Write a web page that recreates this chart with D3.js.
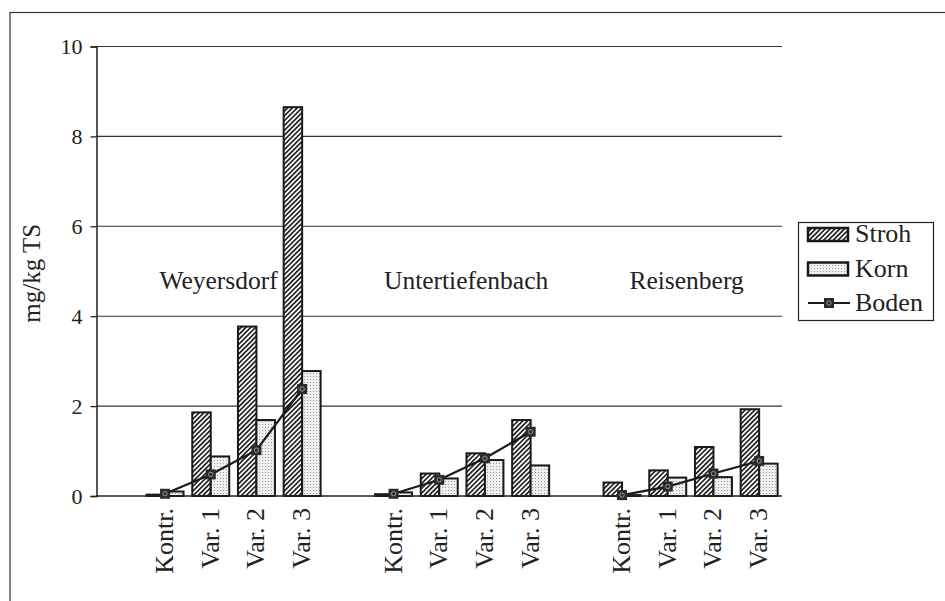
<!DOCTYPE html>
<html><head><meta charset="utf-8">
<script src="https://cdn.jsdelivr.net/npm/d3@7"></script>
<style>body{margin:0;background:#fff}svg{display:block}text{font-family:"Liberation Serif","Times New Roman",serif;fill:#222}</style>
</head><body><svg id="c" width="945" height="601"></svg>
<script>
const sites = ["Weyersdorf","Untertiefenbach","Reisenberg"];
const categories = ["Kontr.","Var. 1","Var. 2","Var. 3"];
const series = ["Stroh","Korn"];
const stroh = [[0.03,1.86,3.77,8.65],[0.04,0.50,0.95,1.69],[0.30,0.57,1.09,1.93]];
const korn  = [[0.10,0.88,1.69,2.78],[0.08,0.39,0.80,0.68],[0.02,0.41,0.42,0.72]];
const boden = [[0.05,0.48,1.02,2.38],[0.05,0.36,0.84,1.43],[0.02,0.21,0.50,0.78]];
const yTicks = [0,2,4,6,8,10];
const yLabel = "mg/kg TS";

(function(){
const svg = d3.select("#c");
const defs = svg.append("defs");
const hatch = defs.append("pattern").attr("id","hatch").attr("patternUnits","userSpaceOnUse")
  .attr("width",3.4).attr("height",3.4).attr("patternTransform","rotate(45)");
hatch.append("rect").attr("width",3.4).attr("height",3.4).attr("fill","#fff");
hatch.append("line").attr("x1",0.8).attr("y1",0).attr("x2",0.8).attr("y2",3.4).attr("stroke","#1e1e1e").attr("stroke-width",1.7);
const dots = defs.append("pattern").attr("id","dots").attr("patternUnits","userSpaceOnUse").attr("width",3).attr("height",3);
dots.append("rect").attr("width",3).attr("height",3).attr("fill","#efefef");
dots.append("rect").attr("x",1).attr("y",1).attr("width",1).attr("height",1).attr("fill","#9a9a9a");

svg.append("rect").attr("x",10).attr("y",12.5).attr("width",1000).attr("height",1000)
  .attr("fill","none").attr("stroke","#333").attr("stroke-width",1.2);

const pL = 96.5, pR = 782, pT = 46.5, pB = 496;
const slots = [];
sites.forEach(s=>{ slots.push(s+"|gap"); categories.forEach(c=>slots.push(s+"|"+c)); });
const x = d3.scaleBand().domain(slots).range([pL,pR]).padding(0);
const x1 = d3.scaleBand().domain(series).range([0,x.bandwidth()]).paddingInner(0).paddingOuter(0.236);
const y = d3.scaleLinear().domain([0,10]).range([pB,pT]);

svg.append("g").selectAll("line").data(yTicks.filter(d=>d>0)).join("line")
  .attr("x1",pL).attr("x2",pR).attr("y1",d=>y(d)).attr("y2",d=>y(d))
  .attr("stroke","#333").attr("stroke-width",1.1);

const yAxis = d3.axisLeft(y).tickValues(yTicks).tickSize(6).tickPadding(8).tickFormat(d3.format("d"));
const ga = svg.append("g").attr("transform",`translate(${pL},0)`).call(yAxis);
ga.select(".domain").attr("stroke","#222").attr("stroke-width",1.5);
ga.selectAll(".tick line").attr("stroke","#222").attr("stroke-width",1.3);
ga.selectAll(".tick text").attr("font-size",22).attr("font-family","Liberation Serif").attr("fill","#222");

svg.append("text").attr("transform",`translate(40,${(pT+pB)/2+2}) rotate(-90)`)
  .attr("text-anchor","middle").attr("font-size",25).text(yLabel);

const barData = [];
sites.forEach((s,i)=>categories.forEach((c,j)=>{
  barData.push({key:s+"|"+c, ser:"Stroh", v:stroh[i][j]});
  barData.push({key:s+"|"+c, ser:"Korn", v:korn[i][j]});
}));
svg.append("g").selectAll("rect").data(barData).join("rect")
  .attr("x",d=>x(d.key)+x1(d.ser)).attr("width",x1.bandwidth())
  .attr("y",d=>y(d.v)).attr("height",d=>pB-y(d.v))
  .attr("fill",d=>d.ser==="Stroh"?"url(#hatch)":"url(#dots)")
  .attr("stroke","#1a1a1a").attr("stroke-width",2);

svg.append("line").attr("x1",pL).attr("x2",pR).attr("y1",pB).attr("y2",pB)
  .attr("stroke","#222").attr("stroke-width",1.6);

svg.append("g").selectAll("text").data(sites.flatMap(s=>categories.map(c=>({key:s+"|"+c,c}))))
  .join("text")
  .attr("transform",d=>`translate(${x(d.key)+x.bandwidth()/2+8},508) rotate(-90)`)
  .attr("text-anchor","end").attr("font-size",26).text(d=>d.c);

const siteOffsets = [-15, 4, -4];
const siteCenters = sites.map(s=>{
  const a = x(s+"|"+categories[0]), b = x(s+"|"+categories[3])+x.bandwidth();
  return (a+b)/2;
});
svg.append("g").selectAll("text").data(sites).join("text")
  .attr("x",(d,i)=>siteCenters[i]+siteOffsets[i]).attr("y",289).attr("text-anchor","middle")
  .attr("font-size",25.5).text(d=>d);

const line = d3.line().x(d=>x(d.key)+x.bandwidth()/2).y(d=>y(d.v));
sites.forEach((s,i)=>{
  const pts = categories.map((c,j)=>({key:s+"|"+c, v:boden[i][j]}));
  svg.append("path").datum(pts).attr("d",line).attr("fill","none").attr("stroke","#1a1a1a").attr("stroke-width",2.2);
  const g = svg.append("g").selectAll("g").data(pts).join("g")
    .attr("transform",d=>`translate(${x(d.key)+x.bandwidth()/2},${y(d.v)})`);
  g.append("rect").attr("x",-5).attr("y",-5).attr("width",10).attr("height",10).attr("fill","#2a2a2a");
  g.append("circle").attr("r",2.2).attr("fill","none").attr("stroke","#999").attr("stroke-width",1);
});

const lg = svg.append("g");
lg.append("rect").attr("x",798.5).attr("y",222.5).attr("width",135).attr("height",98)
  .attr("fill","#fff").attr("stroke","#222").attr("stroke-width",1.2);
const items = ["Stroh","Korn","Boden"];
items.forEach((nm,i)=>{
  const cy = 234 + i*34.5;
  if(nm==="Boden"){
    lg.append("line").attr("x1",808).attr("x2",850).attr("y1",cy).attr("y2",cy).attr("stroke","#1a1a1a").attr("stroke-width",2.2);
    lg.append("rect").attr("x",824).attr("y",cy-5).attr("width",10).attr("height",10).attr("fill","#2a2a2a");
    lg.append("circle").attr("cx",829).attr("cy",cy).attr("r",2.2).attr("fill","none").attr("stroke","#999");
  } else {
    lg.append("rect").attr("x",808).attr("y",cy-6).attr("width",40).attr("height",13)
      .attr("fill",nm==="Stroh"?"url(#hatch)":"url(#dots)").attr("stroke","#1a1a1a").attr("stroke-width",2.5);
  }
  lg.append("text").attr("x",855).attr("y",cy+8).attr("font-size",26).text(nm);
});
})();
</script></body></html>
